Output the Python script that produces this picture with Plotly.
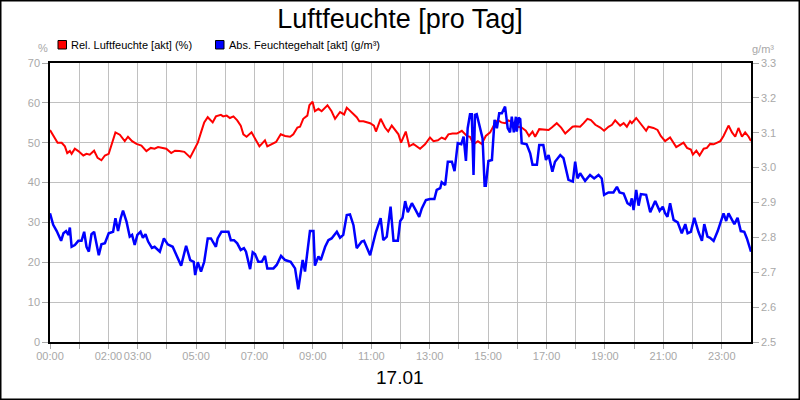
import plotly.graph_objects as go

# Relative humidity (%), hours since 00:00
red_hours = [0, 0.11, 0.26, 0.4, 0.51, 0.59, 0.68, 0.74, 0.85, 0.97, 1.14, 1.25, 1.36, 1.51, 1.63, 1.76, 1.88,
             2.01, 2.1, 2.24, 2.39, 2.56, 2.67, 2.81, 2.96, 3.13, 3.3, 3.45, 3.58, 3.7, 3.86, 3.98, 4.15, 4.28,
             4.43, 4.6, 4.8, 4.94, 5.06, 5.17, 5.28, 5.4, 5.57, 5.68, 5.85, 5.93, 6.05, 6.16, 6.28, 6.41, 6.53,
             6.62, 6.73, 6.9, 7.02, 7.17, 7.25, 7.36, 7.44, 7.59, 7.74, 7.9, 8.05, 8.22, 8.33, 8.47, 8.56, 8.67,
             8.81, 8.88, 8.99, 9.07, 9.19, 9.3, 9.5, 9.64, 9.76, 9.93, 10.07, 10.16, 10.33, 10.5, 10.59, 10.73,
             10.96, 11.09, 11.16, 11.32, 11.47, 11.58, 11.7, 11.85, 11.93, 12.02, 12.1, 12.18, 12.3, 12.44,
             12.67, 12.84, 13.01, 13.13, 13.28, 13.41, 13.53, 13.64, 13.78, 13.93, 14.1, 14.27, 14.38, 14.5,
             14.65, 14.78, 14.92, 15.07, 15.22, 15.33, 15.45, 15.58, 15.7, 15.87, 16.02, 16.15, 16.29, 16.4,
             16.52, 16.61, 16.75, 16.93, 17.07, 17.18, 17.35, 17.5, 17.64, 17.77, 17.89, 17.98, 18.15, 18.27,
             18.4, 18.52, 18.67, 18.84, 18.97, 19.12, 19.24, 19.35, 19.52, 19.64, 19.75, 19.86, 19.92, 20.07,
             20.23, 20.41, 20.49, 20.66, 20.8, 20.91, 21.06, 21.23, 21.44, 21.58, 21.69, 21.81, 21.94, 22.01,
             22.13, 22.24, 22.38, 22.49, 22.6, 22.72, 22.83, 22.95, 23.06, 23.23, 23.35, 23.46, 23.57, 23.69,
             23.8, 23.92, 24.0]
red_values = [53.2, 51.7, 50.0, 50.0, 49.1, 47.4, 47.9, 47.2, 48.5, 47.9, 46.8, 47.2, 47.0, 48.0, 46.2, 45.6, 46.8,
              47.2, 49.1, 52.6, 52.0, 50.4, 51.5, 50.4, 49.7, 49.3, 47.9, 48.7, 48.5, 48.9, 48.7, 48.5, 47.4, 48.0,
              47.9, 47.7, 46.3, 48.3, 50.0, 52.6, 55.1, 56.4, 55.1, 56.6, 57.0, 56.6, 56.8, 56.2, 56.6, 55.6, 54.3,
              52.1, 51.5, 52.6, 50.9, 49.1, 49.7, 50.6, 49.1, 49.6, 50.2, 52.1, 51.7, 51.5, 52.1, 53.8, 54.0, 56.0,
              56.8, 59.4, 60.3, 57.9, 58.5, 57.9, 59.4, 57.9, 56.0, 57.7, 57.1, 58.8, 57.7, 56.4, 55.4, 55.4,
              54.9, 54.3, 52.8, 56.0, 53.8, 52.8, 54.3, 52.8, 52.1, 50.0, 51.5, 52.8, 49.1, 49.7,
              48.5, 49.6, 51.3, 50.4, 50.6, 51.3, 50.9, 52.1, 52.3, 52.3, 53.0, 51.7, 51.5, 49.6,
              50.4, 49.7, 51.7, 52.6, 54.7, 55.7, 55.1, 54.9, 55.6, 54.9, 54.0, 53.8, 53.0, 51.7,
              52.8, 51.5, 53.4, 53.2, 53.2, 53.8, 54.9, 53.8, 52.3, 53.2, 54.0, 54.1, 54.0, 54.9,
              56.0, 55.7, 54.5, 53.8, 53.0, 54.0, 54.5, 55.6, 54.3, 54.9, 54.0, 55.4, 54.9, 56.2,
              54.7, 53.0, 54.0, 53.7, 53.2, 51.7, 50.4, 51.3, 48.9, 49.6, 50.0, 48.7, 48.3, 47.0,
              48.0, 46.8, 48.5, 48.7, 49.7, 49.6, 50.0, 50.4, 51.7, 54.3, 52.6, 51.5, 53.7, 51.5,
              52.6, 51.5, 50.4]

# Absolute humidity (g/m³)
blue_hours = [0, 0.11, 0.23, 0.38, 0.46, 0.55, 0.63, 0.68, 0.74, 0.85, 0.97, 1.08, 1.17, 1.25, 1.33, 1.42, 1.51,
              1.59, 1.67, 1.76, 1.88, 2.01, 2.16, 2.24, 2.33, 2.42, 2.5, 2.62, 2.73, 2.81, 2.9, 2.99, 3.1, 3.18,
              3.27, 3.36, 3.49, 3.58, 3.76, 3.9, 4.03, 4.2, 4.35, 4.49, 4.66, 4.8, 4.92, 4.97, 5.06, 5.17, 5.28,
              5.4, 5.51, 5.68, 5.74, 5.87, 5.97, 6.11, 6.19, 6.3, 6.41, 6.53, 6.64, 6.71, 6.85, 6.94, 7.02, 7.13,
              7.25, 7.36, 7.44, 7.65, 7.76, 7.91, 8.05, 8.24, 8.39, 8.5, 8.65, 8.73, 8.9, 9.02, 9.07, 9.19, 9.27,
              9.42, 9.53, 9.64, 9.82, 9.93, 10.04, 10.16, 10.27, 10.39, 10.5, 10.67, 10.75, 10.96, 11.16, 11.32,
              11.41, 11.53, 11.66, 11.76, 11.91, 11.99, 12.07, 12.16, 12.25, 12.39, 12.52, 12.64, 12.73, 12.87,
              13.01, 13.16, 13.24, 13.36, 13.41, 13.53, 13.62, 13.76, 13.85, 13.96, 14.08, 14.16, 14.24, 14.3,
              14.38, 14.44, 14.5, 14.55, 14.61, 14.73, 14.81, 14.88, 14.92, 15.01, 15.13, 15.22, 15.3, 15.38,
              15.47, 15.58, 15.67, 15.75, 15.81, 15.88, 15.95, 15.98, 16.04, 16.1, 16.15, 16.32, 16.44, 16.52,
              16.67, 16.75, 16.89, 16.98, 17.07, 17.2, 17.29, 17.47, 17.58, 17.75, 17.9, 17.98, 18.06, 18.15,
              18.32, 18.49, 18.63, 18.78, 18.89, 18.97, 19.12, 19.29, 19.41, 19.5, 19.64, 19.77, 19.86, 19.92,
              19.98, 20.07, 20.15, 20.23, 20.41, 20.55, 20.72, 20.87, 20.98, 21.06, 21.14, 21.23, 21.35, 21.49,
              21.63, 21.75, 21.83, 21.94, 22.06, 22.2, 22.32, 22.4, 22.51, 22.6, 22.72, 22.86, 22.97, 23.06,
              23.15, 23.23, 23.35, 23.43, 23.54, 23.65, 23.77, 23.86, 24.0]
blue_values = [2.869, 2.836, 2.818, 2.790, 2.812, 2.818, 2.807, 2.828, 2.773, 2.778, 2.790, 2.790, 2.816, 2.773,
               2.759, 2.809, 2.816, 2.783, 2.749, 2.780, 2.783, 2.812, 2.816, 2.855, 2.818, 2.855, 2.877, 2.845,
               2.802, 2.807, 2.778, 2.807, 2.816, 2.799, 2.809, 2.788, 2.770, 2.773, 2.759, 2.797, 2.780, 2.773,
               2.745, 2.719, 2.776, 2.735, 2.730, 2.692, 2.729, 2.702, 2.730, 2.797, 2.797, 2.773, 2.797, 2.816,
               2.816, 2.816, 2.792, 2.792, 2.783, 2.764, 2.769, 2.759, 2.709, 2.757, 2.752, 2.730, 2.730, 2.747,
               2.711, 2.711, 2.721, 2.747, 2.735, 2.730, 2.711, 2.651, 2.735, 2.702, 2.818, 2.818, 2.719, 2.745,
               2.735, 2.773, 2.792, 2.797, 2.816, 2.799, 2.807, 2.864, 2.866, 2.835, 2.769, 2.788, 2.790, 2.749,
               2.816, 2.855, 2.792, 2.802, 2.888, 2.790, 2.790, 2.847, 2.856, 2.904, 2.872, 2.898, 2.878, 2.859,
               2.883, 2.907, 2.910, 2.910, 2.936, 2.941, 2.958, 2.950, 3.017, 3.017, 2.990, 3.070, 3.067, 3.089,
               3.019, 3.113, 3.153, 3.153, 2.979, 3.151, 3.153, 3.113, 3.084, 2.948, 2.948, 3.019, 3.022, 3.137,
               3.113, 3.156, 3.156, 3.175, 3.113, 3.101, 3.146, 3.101, 3.146, 3.103, 3.143, 3.139, 3.070, 3.067,
               3.041, 3.008, 3.008, 3.065, 3.065, 3.022, 3.036, 2.988, 3.017, 3.036, 3.027, 2.965, 2.960, 3.017,
               2.969, 2.984, 2.962, 2.979, 2.969, 2.979, 2.969, 2.922, 2.929, 2.929, 2.945, 2.929, 2.926, 2.898,
               2.893, 2.912, 2.878, 2.936, 2.891, 2.924, 2.922, 2.872, 2.904, 2.876, 2.888, 2.869, 2.859, 2.898,
               2.850, 2.843, 2.812, 2.838, 2.812, 2.816, 2.856, 2.816, 2.790, 2.838, 2.802, 2.799, 2.790, 2.818,
               2.847, 2.869, 2.847, 2.869, 2.850, 2.838, 2.856, 2.818, 2.816, 2.797, 2.759]

# Axis labels and legend
hour_ticks = list(range(24))
labeled_hours = {0: "00:00", 2: "02:00", 3: "03:00", 5: "05:00", 7: "07:00", 9: "09:00", 11: "11:00",
                 13: "13:00", 15: "15:00", 17: "17:00", 19: "19:00", 21: "21:00", 23: "23:00"}
hour_labels = [labeled_hours.get(h, "") for h in hour_ticks]
left_ticks = [0, 10, 20, 30, 40, 50, 60, 70]
right_ticks = [2.5, 2.6, 2.7, 2.8, 2.9, 3.0, 3.1, 3.2, 3.3]
series_names = ["Rel. Luftfeuchte [akt] (%)", "Abs. Feuchtegehalt [akt] (g/m³)"]
series_colors = ["#ff0000", "#0000ff"]

assert len(red_hours) == len(red_values), (len(red_hours), len(red_values))
assert len(blue_hours) == len(blue_values), (len(blue_hours), len(blue_values))

FONT = "Liberation Sans, Arial, sans-serif"
GRAY = "#a8a8a8"

# Plot area in pixels
L, R, T, B = 50, 49, 63, 58
PW, PH = 800 - L - R, 400 - T - B


def px_x(x):
    return (x - L) / PW


def px_y(y):
    return (400 - B - y) / PH


def add_text(text, x, y, size, color, xanchor="center"):
    fig.add_annotation(text=text, xref="paper", yref="paper", x=px_x(x), y=px_y(y), xanchor=xanchor,
                       yanchor="middle", showarrow=False, font=dict(size=size, color=color, family=FONT))


fig = go.Figure()

fig.add_trace(go.Scatter(x=red_hours, y=red_values, mode="lines", name=series_names[0],
                         line=dict(color=series_colors[0], width=2), showlegend=False))
fig.add_trace(go.Scatter(x=blue_hours, y=blue_values, mode="lines", name=series_names[1],
                         line=dict(color=series_colors[1], width=2.5), yaxis="y2", showlegend=False))

axis_common = dict(ticks="outside", tickcolor=GRAY, tickfont=dict(color=GRAY, size=11, family=FONT),
                   showline=True, linecolor="black", linewidth=1.5, zeroline=False, automargin=False)

fig.update_layout(
    width=800, height=400,
    margin=dict(l=L, r=R, t=T, b=B),
    paper_bgcolor="white", plot_bgcolor="white",
    font=dict(family=FONT, size=11, color="black"),
    showlegend=False,
    title=dict(text="Luftfeuchte [pro Tag]", x=0.5, xanchor="center", y=1 - 19 / 400, yanchor="middle",
               font=dict(size=27, color="black", family=FONT)),
    xaxis=dict(range=[0, 24], tickvals=hour_ticks, ticktext=hour_labels, tickangle=0, showgrid=True,
               gridcolor="#c0c0c0", gridwidth=1, ticklen=5, ticklabelstandoff=-2, mirror=True, **axis_common),
    yaxis=dict(range=[0, 70], tickvals=left_ticks, showgrid=True, gridcolor="#c0c0c0", gridwidth=1,
               ticklen=6, mirror=True, **axis_common),
    yaxis2=dict(range=[2.5, 3.3], tickvals=right_ticks, tickformat=".1f", overlaying="y", side="right",
                showgrid=False, ticklen=6, **axis_common),
)

# legend drawn as swatches + text
legend_x = [58, 215.5]
for name, color, lx in zip(series_names, series_colors, legend_x):
    fig.add_shape(type="rect", xref="paper", yref="paper", x0=px_x(lx), x1=px_x(lx + 8.5),
                  y0=px_y(49), y1=px_y(40.5), fillcolor=color, line=dict(color="black", width=1))
    add_text(name, lx + 11, 45, 11, "black", xanchor="left")

add_text("%", 43, 48, 11, GRAY)
add_text("g/m³", 763, 49, 11, GRAY)
add_text("17.01", 400, 377, 19, "black")

# frame around the whole image
fig.add_shape(type="rect", xref="paper", yref="paper", x0=px_x(0.75), x1=px_x(799.25),
              y0=px_y(399.25), y1=px_y(0.75), line=dict(color="black", width=1.5))

fig.write_html("out.html", config={"displayModeBar": False},
               post_script="document.body.style.margin='0';")
